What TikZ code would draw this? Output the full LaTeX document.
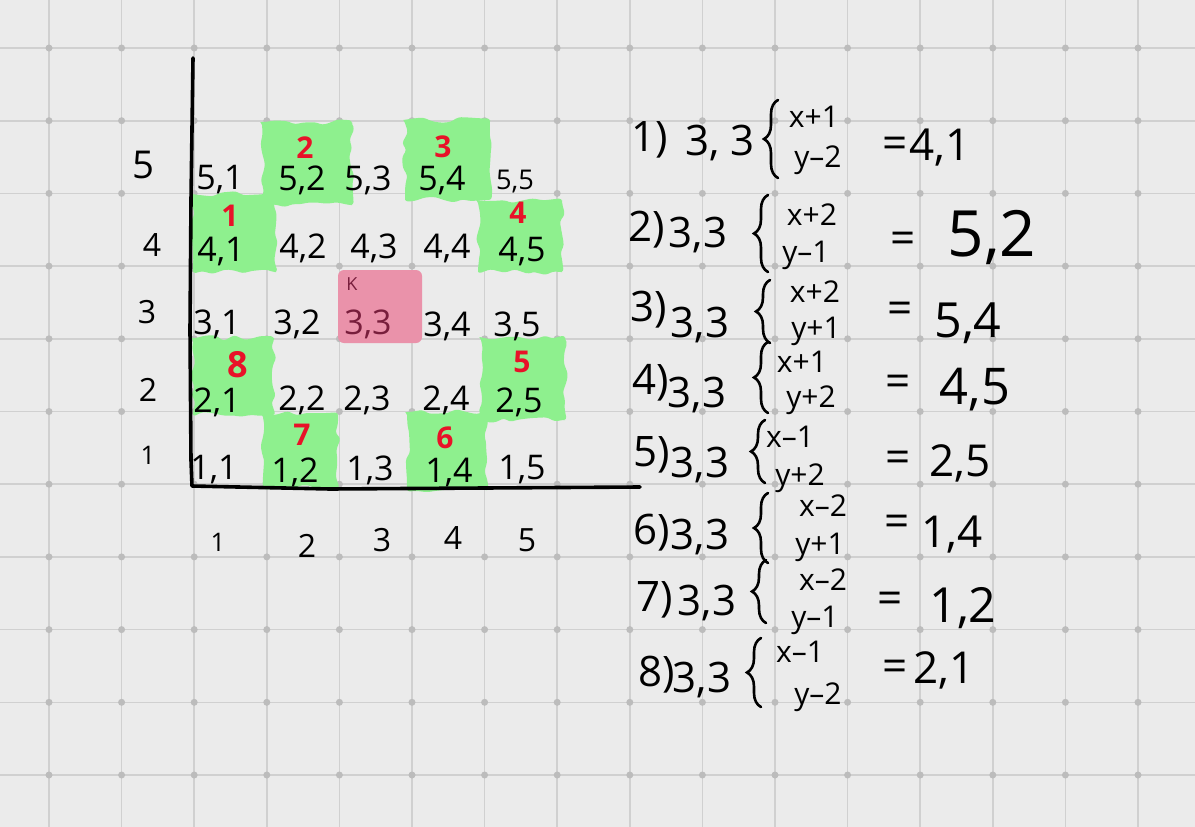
\documentclass[tikz,border=0pt]{standalone}
\usepackage{fontspec}
\setmainfont{Open Sans}
\usetikzlibrary{decorations.pathreplacing,decorations.pathmorphing}
\definecolor{paper}{RGB}{235,235,235}
\definecolor{gridgray}{RGB}{208,208,208}
\definecolor{dotgray}{RGB}{188,188,188}
\definecolor{patchgreen}{RGB}{142,240,142}
\definecolor{patchpink}{RGB}{234,146,170}
\definecolor{inkred}{RGB}{232,18,40}
\definecolor{inkmaroon}{RGB}{120,30,60}
\tikzset{
 gridline/.style={draw=gridgray,line width=1.6pt},
 griddot/.style={fill=dotgray},
 axisline/.style={line width=3.6pt,line cap=round,line join=round},
 greenpatch/.style={fill=patchgreen,decorate,decoration={random steps,segment length=9pt,amplitude=3pt},rounded corners=3pt},
 knightpatch/.style={fill=patchpink,rounded corners=6pt},
 cell/.style={font=\fontsize{34}{34}\selectfont,inner sep=0},
 axislabel/.style={font=\fontsize{32}{32}\selectfont,inner sep=0},
 movenum/.style={text=inkred,font=\bfseries\fontsize{30}{30}\selectfont,inner sep=0},
 stepnum/.style={font=\fontsize{42}{42}\selectfont,inner sep=0},
 fromcell/.style={font=\fontsize{42}{42}\selectfont,inner sep=0},
 term/.style={font=\fontsize{30}{30}\selectfont,inner sep=0},
 result/.style={font=\fontsize{44}{44}\selectfont,inner sep=0},
 bracket/.style={decorate,decoration={brace,amplitude=14pt},line width=2.6pt,line cap=round}
}
\begin{document}
\begin{tikzpicture}[x=1pt,y=-1pt]
\path[use as bounding box] (0,0) rectangle (1195,827);
\pgfmathsetseed{7}
% paper
\fill[paper] (0,0) rectangle (1195,827);
\foreach \gx in {0,...,15} \draw[gridline] ({49+72.6*\gx},0) -- ({49+72.6*\gx},827);
\foreach \gy in {0,...,10} \draw[gridline] (0,{48+72.7*\gy}) -- (1195,{48+72.7*\gy});
\foreach \gx in {0,...,15} \foreach \gy in {0,...,10} \fill[griddot] ({49+72.6*\gx},{48+72.7*\gy}) circle (3.5);
% reachable squares
\fill[greenpatch] (262,122) rectangle (352,205);
\fill[greenpatch] (405,120) rectangle (490,200);
\fill[greenpatch] (193,194) rectangle (276,272);
\fill[greenpatch] (478,200) rectangle (562,272);
\fill[greenpatch] (193,338) rectangle (274,415);
\fill[greenpatch] (263,414) rectangle (338,488);
\fill[greenpatch] (407,412) rectangle (487,490);
\fill[greenpatch] (481,337) rectangle (565,420);
% knight
\fill[knightpatch] (338,270) rectangle (422,343);
\node[inner sep=0,text=inkmaroon,font=\fontsize{18}{18}\selectfont] (knight) at (352,284) {K};
% cells
\node[cell] (c51) at (220,180) {5,1};
\node[cell] (c52) at (302,180) {5,2};
\node[cell] (c53) at (368,180) {5,3};
\node[cell] (c54) at (442,180) {5,4};
\node[cell,scale=.8] (c55) at (515,182) {5,5};
\node[cell] (c41) at (221,251) {4,1};
\node[cell] (c42) at (303,248) {4,2};
\node[cell] (c43) at (374,248) {4,3};
\node[cell] (c44) at (447,248) {4,4};
\node[cell] (c45) at (522,251) {4,5};
\node[cell] (c31) at (217,324) {3,1};
\node[cell] (c32) at (297,324) {3,2};
\node[cell,text=inkmaroon] (c33) at (368,324) {3,3};
\node[cell] (c34) at (447,326) {3,4};
\node[cell] (c35) at (517,326) {3,5};
\node[cell] (c21) at (217,402) {2,1};
\node[cell] (c22) at (302,400) {2,2};
\node[cell] (c23) at (367,400) {2,3};
\node[cell] (c24) at (446,400) {2,4};
\node[cell] (c25) at (519,402) {2,5};
\node[cell] (c11) at (214,470) {1,1};
\node[cell] (c12) at (295,472) {1,2};
\node[cell] (c13) at (370,470) {1,3};
\node[cell] (c14) at (449,472) {1,4};
\node[cell] (c15) at (522,470) {1,5};
% move numbers
\node[movenum] (m1) at (230,216) {1};
\node[movenum] (m2) at (305,148) {2};
\node[movenum] (m3) at (443,147) {3};
\node[movenum] (m4) at (518,213) {4};
\node[movenum] (m5) at (522,362) {5};
\node[movenum] (m6) at (445,438) {6};
\node[movenum] (m7) at (302,435) {7};
\node[movenum,scale=1.2] (m8) at (238,365) {8};
% axes
\coordinate (O) at (192,486);
\coordinate (ytop) at (193,58);
\coordinate (xend) at (640,487);
\draw[axisline] (ytop) -- (191,200) -- (190,330) -- (191,460) -- (O) -- (330,489) -- (xend);
\node[axislabel,scale=1.2] (y5) at (143,165) {5};
\node[axislabel] (y4) at (152,245) {4};
\node[axislabel] (y3) at (147,312) {3};
\node[axislabel] (y2) at (148,390) {2};
\node[axislabel,scale=.8] (y1) at (148,455) {1};
\node[axislabel,scale=.8] (x1) at (218,542) {1};
\node[axislabel] (x2) at (307,546) {2};
\node[axislabel] (x3) at (382,540) {3};
\node[axislabel] (x4) at (453,538) {4};
\node[axislabel] (x5) at (527,540) {5};
% moves
\node[stepnum] (n1) at (650,140) {1)};
\node[fromcell] (s1) at (720,143) {3, 3};
\draw[bracket] (778,178) -- (778,100);
\node[term] (t1) at (814,117) {x+1};
\node[term] (b1) at (818,160) {y--2};
\node[result] (e1) at (895,148) {=};
\node[result] (r1) at (940,148) {4,1};
\node[stepnum] (n2) at (647,230) {2)};
\node[fromcell] (s2) at (698,235) {3,3};
\draw[bracket] (768,272) -- (768,195);
\node[term] (t2) at (812,215) {x+2};
\node[term] (b2) at (806,255) {y--1};
\node[result] (e2) at (903,243) {=};
\node[result,scale=1.45] (r2) at (992,238) {5,2};
\node[stepnum] (n3) at (649,310) {3)};
\node[fromcell] (s3) at (700,325) {3,3};
\draw[bracket] (770,343) -- (770,280);
\node[term] (t3) at (815,292) {x+2};
\node[term] (b3) at (816,331) {y+1};
\node[result] (e3) at (900,313) {=};
\node[result,scale=1.1] (r3) at (968,323) {5,4};
\node[stepnum] (n4) at (651,383) {4)};
\node[fromcell] (s4) at (697,395) {3,3};
\draw[bracket] (768,413) -- (768,342);
\node[term] (t4) at (802,362) {x+1};
\node[term] (b4) at (811,400) {y+2};
\node[result] (e4) at (898,386) {=};
\node[result,scale=1.15] (r4) at (975,390) {4,5};
\node[stepnum] (n5) at (652,455) {5)};
\node[fromcell] (s5) at (700,465) {3,3};
\draw[bracket] (765,483) -- (765,420);
\node[term] (t5) at (790,437) {x--1};
\node[term] (b5) at (800,478) {y+2};
\node[result] (e5) at (898,462) {=};
\node[result] (r5) at (960,463) {2,5};
\node[stepnum] (n6) at (652,533) {6)};
\node[fromcell] (s6) at (700,537) {3,3};
\draw[bracket] (768,563) -- (768,493);
\node[term] (t6) at (823,506) {x--2};
\node[term] (b6) at (820,547) {y+1};
\node[result] (e6) at (897,526) {=};
\node[result] (r6) at (952,535) {1,4};
\node[stepnum] (n7) at (655,600) {7)};
\node[fromcell] (s7) at (707,603) {3,3};
\draw[bracket] (766,623) -- (766,560);
\node[term] (t7) at (823,580) {x--2};
\node[term] (b7) at (815,620) {y--1};
\node[result] (e7) at (890,603) {=};
\node[result,scale=1.1] (r7) at (963,608) {1,2};
\node[stepnum] (n8) at (657,675) {8)};
\node[fromcell] (s8) at (702,680) {3,3};
\draw[bracket] (761,707) -- (761,638);
\node[term] (t8) at (800,652) {x--1};
\node[term] (b8) at (818,697) {y--2};
\node[result] (e8) at (895,671) {=};
\node[result] (r8) at (944,670) {2,1};
\end{tikzpicture}
\end{document}
